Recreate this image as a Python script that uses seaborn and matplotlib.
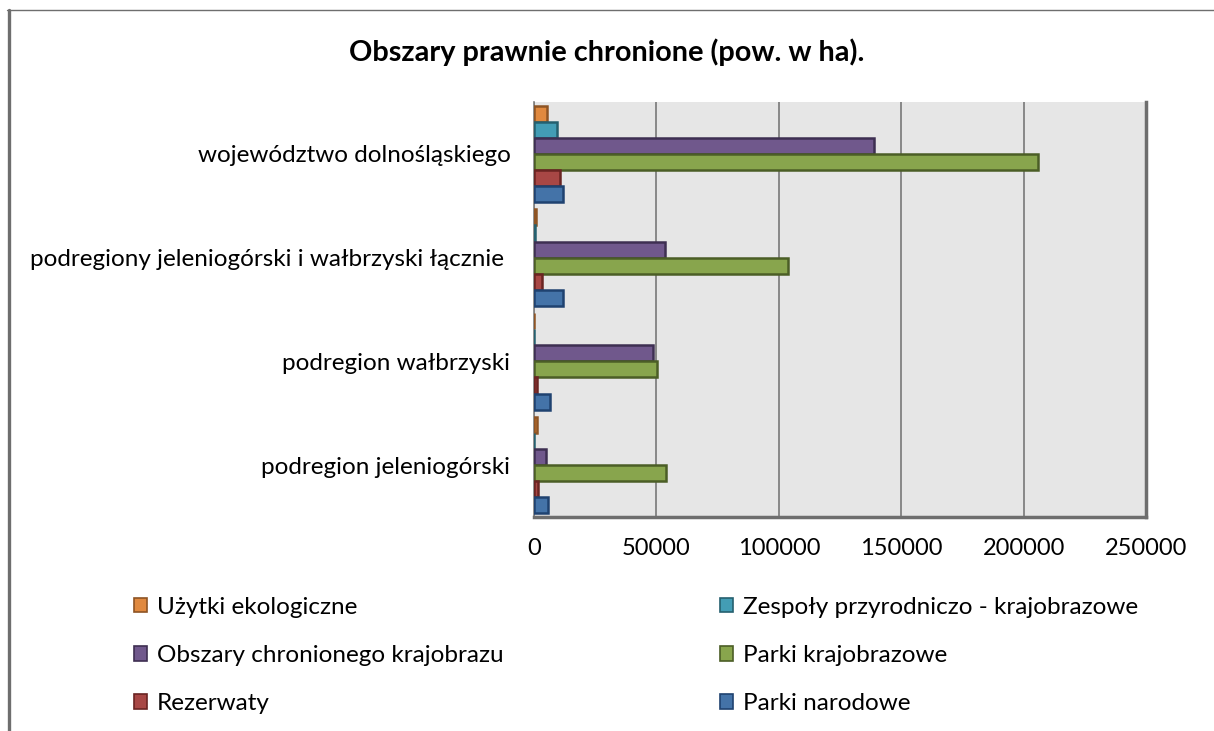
import matplotlib
matplotlib.use("Agg")
import matplotlib.pyplot as plt
from matplotlib.lines import Line2D
from matplotlib.patches import Patch
import numpy as np
import pandas as pd
import seaborn as sns

# Regions (top to bottom) and protected-area types
regions = [
    "województwo dolnośląskiego",
    "podregiony jeleniogórski i wałbrzyski łącznie ",
    "podregion wałbrzyski",
    "podregion jeleniogórski",
]
types = [
    "Użytki ekologiczne",
    "Zespoły przyrodniczo - krajobrazowe",
    "Obszary chronionego krajobrazu",
    "Parki krajobrazowe",
    "Rezerwaty",
    "Parki narodowe",
]

# Area in hectares, one list per type, in the order of `regions`
uzytki = [5500, 1000, 200, 1400]
zespoly = [9500, 300, 100, 200]
obszary = [139000, 53500, 48500, 5000]
parki_krajobrazowe = [206000, 103900, 50100, 53800]
rezerwaty = [10700, 3200, 1400, 1800]
parki_narodowe = [11920, 11920, 6340, 5580]

series = [uzytki, zespoly, obszary, parki_krajobrazowe, rezerwaty, parki_narodowe]

fills = ["#E0893F", "#439DB5", "#70588C", "#88A54D", "#A84745", "#4473A8"]
edges = ["#8E5424", "#25606F", "#3E2F52", "#4B5E26", "#6A2422", "#1F4270"]

x_ticks = [0, 50000, 100000, 150000, 200000, 250000]

rows = []
for t, vals in zip(types, series):
    for r, v in zip(regions, vals):
        rows.append({"region": r, "typ": t, "value": v})
df = pd.DataFrame(rows)

sns.set_theme(style="white")
FONT = ["Lato", "DejaVu Sans"]
plt.rcParams["font.family"] = FONT
plt.rcParams["text.color"] = "black"

W, H = 1214, 731
fig = plt.figure(figsize=(W / 100, H / 100), dpi=100)
ax = fig.add_axes([534 / W, 1 - 517 / H, (1146 - 534) / W, (517 - 102) / H])
ax.set_facecolor("#E6E6E6")

sns.barplot(
    data=df, y="region", x="value", hue="typ",
    order=regions, hue_order=types, palette=fills,
    orient="h", width=0.93, saturation=1, ax=ax, legend=False,
    err_kws={"linewidth": 0},
)

for cont, ec in zip(ax.containers, edges):
    for bar in cont:
        bar.set_edgecolor(ec)
        bar.set_linewidth(1.8)
        bar.set_zorder(3)

ax.set_xlim(0, 250000)
ax.set_xticks(x_ticks)
ax.set_xticklabels([str(v) for v in x_ticks])
ax.set_xlabel("")
ax.set_ylabel("")
ax.xaxis.grid(True, color="#6E6E6E", linewidth=1.1, zorder=0)
ax.set_axisbelow(True)
ax.tick_params(axis="x", length=0, pad=15, labelsize=17, colors="black")
ax.tick_params(axis="y", length=0, pad=17, labelsize=17.5, colors="black")

ax.spines["top"].set_visible(False)
ax.spines["left"].set_color("#7F7F7F")
ax.spines["left"].set_linewidth(1.2)
for side in ["right", "bottom"]:
    ax.spines[side].set_color("#6E6E6E")
    ax.spines[side].set_linewidth(2.5)

fig.text(607 / W, 1 - 52 / H, "Obszary prawnie chronione (pow. w ha).",
         ha="center", va="center", fontsize=20.8, fontweight="bold", color="black")

handles = [Patch(facecolor=f, edgecolor=e, linewidth=1.2) for f, e in zip(fills, edges)]
leg_kw = dict(frameon=False, fontsize=17.5, handlelength=0.55, handleheight=0.55,
              handletextpad=0.4, labelspacing=1.12, loc="upper left", borderaxespad=0)
leg1 = fig.legend([handles[i] for i in (0, 2, 4)], [types[i] for i in (0, 2, 4)],
                  bbox_to_anchor=(124 / W, 1 - 587 / H), **leg_kw)
leg2 = fig.legend([handles[i] for i in (1, 3, 5)], [types[i] for i in (1, 3, 5)],
                  bbox_to_anchor=(710 / W, 1 - 587 / H), **leg_kw)

# outer chart frame (left and top edges)
fig.add_artist(Line2D([8.5 / W, 8.5 / W], [0, 1 - 10 / H], transform=fig.transFigure,
                      color="#6E6E6E", linewidth=2.4))
fig.add_artist(Line2D([7 / W, 1], [1 - 10 / H, 1 - 10 / H], transform=fig.transFigure,
                      color="#6E6E6E", linewidth=1.0))

fig.savefig("out.png", dpi=100, facecolor="white")
